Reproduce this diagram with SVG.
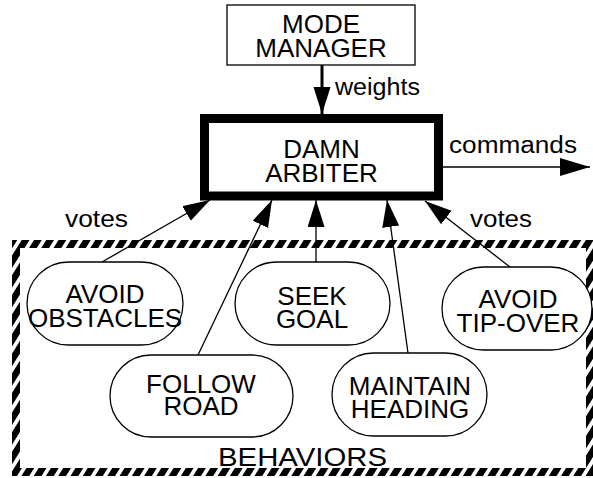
<svg xmlns="http://www.w3.org/2000/svg" width="593" height="478" viewBox="0 0 593 478">
<style>
text{font-family:"Liberation Sans",Arial,sans-serif;fill:#000}
.cap{font-size:26px;text-anchor:middle}
.lbl{font-size:23px}
.node{fill:#fff;stroke:#000;stroke-width:1.3}
.conn{stroke:#000;stroke-width:1.3;fill:none}
</style>
<defs>
<marker id="ah" markerUnits="userSpaceOnUse" markerWidth="30" markerHeight="20" refX="27" refY="8.5" orient="auto">
<path d="M0,0 L27,8.5 L0,17 z" fill="#000"/>
</marker>
<marker id="ah2" markerUnits="userSpaceOnUse" markerWidth="32" markerHeight="20" refX="30" refY="9" orient="auto">
<path d="M0,0 L30,9 L0,18 z" fill="#000"/>
</marker>
<pattern id="hatch" patternUnits="userSpaceOnUse" width="10.4" height="11" patternTransform="rotate(32)">
<rect width="6.6" height="11" fill="#000"/>
</pattern>
</defs>

<g id="behaviors-frame">
<path d="M12,240 H593 V476 H12 Z M20,248 V468 H586 V248 Z" fill="url(#hatch)" fill-rule="evenodd"/>
<text x="218" y="466" font-size="26" textLength="169" lengthAdjust="spacingAndGlyphs">BEHAVIORS</text>
</g>

<g id="mode-manager">
<rect x="227" y="5" width="188" height="60" class="node"/>
<text x="321" y="33" class="cap">MODE</text>
<text x="321" y="57" class="cap">MANAGER</text>
</g>

<g id="damn-arbiter">
<rect x="204.5" y="118.5" width="234" height="77.5" fill="#fff" stroke="#000" stroke-width="9"/>
<text x="321.5" y="158" class="cap">DAMN</text>
<text x="321.5" y="182" class="cap">ARBITER</text>
</g>

<g id="avoid-obstacles">
<rect x="27" y="262" width="156" height="83" rx="41.5" class="node"/>
<text x="105" y="303" class="cap">AVOID</text>
<text x="105" y="327" class="cap">OBSTACLES</text>
</g>

<g id="seek-goal">
<rect x="235" y="262" width="155" height="83" rx="41.5" class="node"/>
<text x="312" y="305" class="cap">SEEK</text>
<text x="312" y="328" class="cap">GOAL</text>
</g>

<g id="avoid-tip-over">
<rect x="442" y="267" width="150" height="83" rx="41.5" class="node"/>
<text x="518" y="308" class="cap">AVOID</text>
<text x="518" y="332" class="cap">TIP-OVER</text>
</g>

<g id="follow-road">
<rect x="110" y="355" width="183" height="82" rx="41" class="node"/>
<text x="201" y="393" class="cap">FOLLOW</text>
<text x="201" y="415" class="cap">ROAD</text>
</g>

<g id="maintain-heading">
<rect x="332" y="353" width="155" height="83" rx="41.5" class="node"/>
<text x="410" y="395" class="cap">MAINTAIN</text>
<text x="410" y="418" class="cap">HEADING</text>
</g>

<g id="connectors">
<line x1="322" y1="65" x2="322" y2="114" stroke="#000" stroke-width="3" marker-end="url(#ah)"/>
<line x1="443" y1="167" x2="590" y2="167" stroke="#000" stroke-width="1.5" marker-end="url(#ah2)"/>
<line x1="102" y1="262" x2="210" y2="200" class="conn" marker-end="url(#ah)"/>
<line x1="198" y1="355" x2="272" y2="200" class="conn" marker-end="url(#ah)"/>
<line x1="316" y1="262" x2="316" y2="200" class="conn" marker-end="url(#ah)"/>
<line x1="408" y1="353" x2="387" y2="200" class="conn" marker-end="url(#ah)"/>
<line x1="510" y1="267" x2="425" y2="201" class="conn" marker-end="url(#ah)"/>
<text x="335" y="95" class="lbl" textLength="85" lengthAdjust="spacingAndGlyphs">weights</text>
<text x="449" y="153" class="lbl" textLength="128" lengthAdjust="spacingAndGlyphs">commands</text>
<text x="65" y="227" class="lbl" textLength="63" lengthAdjust="spacingAndGlyphs">votes</text>
<text x="470" y="227" class="lbl" textLength="62" lengthAdjust="spacingAndGlyphs">votes</text>
</g>
</svg>
